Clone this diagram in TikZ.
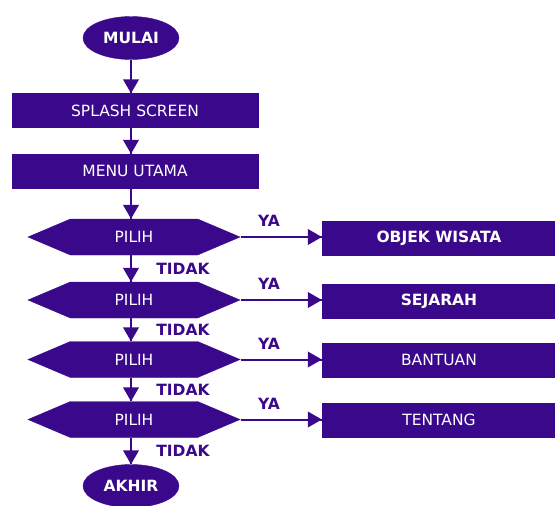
\documentclass[tikz,border=0pt]{standalone}
\usepackage{fontspec}
\setmainfont{DejaVu Sans}
\usepackage{tikz}
\usetikzlibrary{arrows}
\usetikzlibrary{decorations.markings}
\usetikzlibrary{shapes.geometric}
\usetikzlibrary{shapes.symbols}
\tikzset{->/.style = {decoration={markings,
                                  mark=at position 1 with {\arrow[scale=1.3]{triangle 60}}},
                      postaction={decorate}}}
\definecolor{mpurple}{RGB}{58, 8, 138}
\tikzset{terminal/.style = {ellipse, fill=mpurple, draw=mpurple, text=white,
                            font=\fontsize{15.5}{18}\selectfont\bfseries,
                            minimum width=96pt, minimum height=43pt, inner sep=0pt},
         process/.style  = {rectangle, fill=mpurple, draw=mpurple, text=white,
                            minimum width=246pt, minimum height=34pt, inner sep=0pt},
         choice/.style   = {signal, signal to=west and east, signal pointer angle=46,
                            fill=mpurple, draw=mpurple, text=white,
                            minimum width=212pt, minimum height=36pt, inner sep=0pt},
         menubox/.style  = {rectangle, fill=mpurple, draw=mpurple, text=white,
                            minimum width=234pt, minimum height=34pt, inner sep=0pt},
         flow/.style     = {->, mpurple, line width=2pt},
         answer/.style   = {text=mpurple, font=\fontsize{15.5}{18}\selectfont\bfseries}}

\begin{document}
\begin{tikzpicture}[x=1pt, y=-1pt, font=\fontsize{15.5}{18}\selectfont]
    \useasboundingbox (0, 0) rectangle (555, 506);

    \node [terminal] (mulai) at (131, 38) {MULAI};
    \node [process] (splash) at (135, 110.5) {SPLASH SCREEN};
    \node [process] (menu) at (135, 171) {MENU UTAMA};
    \node [choice] (pilih1) at (134, 237) {PILIH};
    \node [choice] (pilih2) at (134, 300) {PILIH};
    \node [choice] (pilih3) at (134, 359.5) {PILIH};
    \node [choice] (pilih4) at (134, 419.5) {PILIH};
    \node [terminal] (akhir) at (131, 486) {AKHIR};

    \node [menubox, font=\fontsize{15.5}{18}\selectfont\bfseries] (objek) at (439, 238) {OBJEK WISATA};
    \node [menubox, font=\fontsize{15.5}{18}\selectfont\bfseries] (sejarah) at (439, 301) {SEJARAH};
    \node [menubox] (bantuan) at (439, 360) {BANTUAN};
    \node [menubox] (tentang) at (439, 420) {TENTANG};

    \draw [flow] (mulai.south) -- (mulai.south |- splash.north);
    \draw [flow] (mulai.south |- splash.south) -- (mulai.south |- menu.north);
    \draw [flow] (mulai.south |- menu.south) -- (mulai.south |- pilih1.north);
    \draw [flow] (mulai.south |- pilih1.south) -- node [answer, right=21pt] {TIDAK} (mulai.south |- pilih2.north);
    \draw [flow] (mulai.south |- pilih2.south) -- node [answer, right=21pt] {TIDAK} (mulai.south |- pilih3.north);
    \draw [flow] (mulai.south |- pilih3.south) -- node [answer, right=21pt] {TIDAK} (mulai.south |- pilih4.north);
    \draw [flow] (mulai.south |- pilih4.south) -- node [answer, right=21pt] {TIDAK} (akhir.north);

    \draw [flow] (pilih1.east) -- node [answer, above=6pt, pos=0.35] {YA} (objek.west |- pilih1.east);
    \draw [flow] (pilih2.east) -- node [answer, above=6pt, pos=0.35] {YA} (sejarah.west |- pilih2.east);
    \draw [flow] (pilih3.east) -- node [answer, above=6pt, pos=0.35] {YA} (bantuan.west |- pilih3.east);
    \draw [flow] (pilih4.east) -- node [answer, above=6pt, pos=0.35] {YA} (tentang.west |- pilih4.east);
  \end{tikzpicture}
\end{document}
